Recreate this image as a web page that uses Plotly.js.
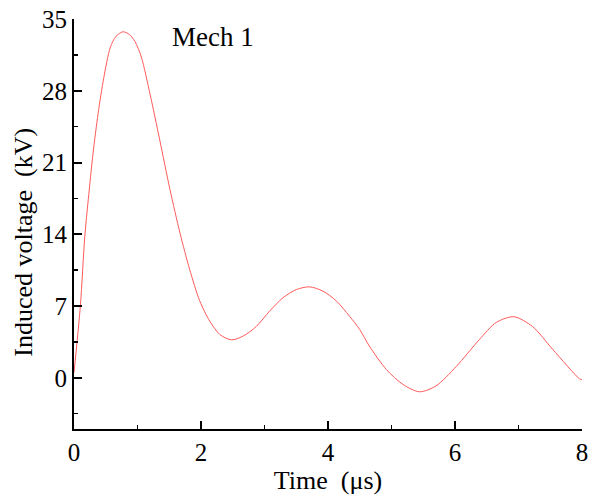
<!DOCTYPE html>
<html>
<head>
<meta charset="utf-8">
<script src="https://cdn.plot.ly/plotly-3.0.1.min.js"></script>
<style>
  body { margin: 0; background: #fff; }
  #chart { width: 598px; height: 500px; }
</style>
</head>
<body>
<div id="chart"></div>
<script>
// time in microseconds, induced voltage in kV
var time = [0, 0.1, 0.17, 0.225, 0.3, 0.38, 0.47, 0.57, 0.66, 0.77, 0.87, 0.96, 1.06, 1.2, 1.35, 1.51, 1.67,
  1.82, 1.98, 2.14, 2.3, 2.48, 2.66, 2.87, 3.08, 3.29, 3.5, 3.71, 3.92, 4.13, 4.34, 4.5, 4.65, 4.92,
  5.18, 5.44, 5.7, 6.02, 6.38, 6.65, 6.93, 7.22, 7.54, 7.96, 8.0];
var voltage = [0.5, 7.0, 13.8, 17.4, 21.9, 25.8, 29.3, 32.2, 33.3, 33.75, 33.5, 32.8, 31.3, 27.6, 23.2, 18.4, 14.1,
  10.6, 7.5, 5.5, 4.2, 3.7, 4.05, 5.0, 6.5, 7.8, 8.6, 8.87, 8.45, 7.5, 6.0, 4.7, 3.1, 0.8,
  -0.65, -1.37, -0.8, 1.1, 3.7, 5.4, 5.95, 5.0, 2.76, -0.1, -0.2];

var xTicks = [0, 2, 4, 6, 8];
var yTicks = [0, 7, 14, 21, 28, 35];
var label = 'Mech 1';
var yTitle = 'Induced voltage\u00a0\u00a0(kV)';

var font = 'Liberation Serif';

var trace = {
  x: time,
  y: voltage,
  type: 'scatter',
  mode: 'lines',
  line: { color: '#ff5a5a', width: 1, shape: 'spline', smoothing: 0.8 },
  hoverinfo: 'skip'
};

var layout = {
  width: 598,
  height: 500,
  margin: { l: 74, r: 16, t: 19, b: 71 },
  paper_bgcolor: '#fff',
  plot_bgcolor: '#fff',
  showlegend: false,
  font: { family: font, size: 25, color: '#000' },
  xaxis: {
    range: [0, 8],
    tickvals: xTicks,
    ticks: 'inside',
    ticklen: 8,
    tickwidth: 2,
    tickcolor: '#000',
    showline: true,
    linecolor: '#000',
    linewidth: 2,
    showgrid: false,
    zeroline: false,
    minor: { dtick: 1, ticks: 'inside', ticklen: 4, tickwidth: 1.5, tickcolor: '#000', showgrid: false },
    tickfont: { family: font, size: 25 },
    title: { text: 'Time\u00a0\u00a0(\u03bcs)', font: { family: font, size: 26 }, standoff: 4 }
  },
  yaxis: {
    range: [-5, 35],
    tickvals: yTicks,
    ticks: 'inside',
    ticklen: 8,
    tickwidth: 2,
    tickcolor: '#000',
    showline: true,
    linecolor: '#000',
    linewidth: 2,
    showgrid: false,
    zeroline: false,
    minor: { dtick: 3.5, ticks: 'inside', ticklen: 4, tickwidth: 1.5, tickcolor: '#000', showgrid: false },
    tickfont: { family: font, size: 25 }
  },
  annotations: [{
    text: label,
    xref: 'paper', yref: 'paper',
    x: 0.188, y: 0.955,
    xanchor: 'left', yanchor: 'middle',
    showarrow: false,
    font: { family: font, size: 27, color: '#000' }
  }, {
    // y title placed by hand: the original sits a bit below the axis middle
    text: yTitle,
    xref: 'paper', yref: 'paper',
    x: -0.1, y: 0.455,
    xanchor: 'center', yanchor: 'middle',
    textangle: -90,
    showarrow: false,
    font: { family: font, size: 26, color: '#000' }
  }]
};

Plotly.newPlot('chart', [trace], layout, { displayModeBar: false, staticPlot: true });
</script>
</body>
</html>
